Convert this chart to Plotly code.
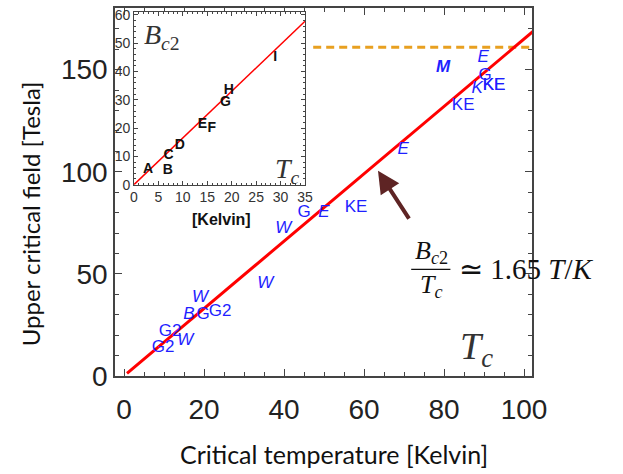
import plotly.graph_objects as go

# ---------------- data ----------------
# main panel labels (text, Tc [K], Bc2 [T])
up_text = ["G", "KE", "KE", "KE", "G", "KE", "G2", "G", "G2", "G2"]
up_x = [90.3, 92.5, 84.8, 58.0, 45.0, 92.5, 24.0, 19.8, 11.5, 9.8]
up_y = [147.0, 142.0, 132.4, 82.6, 79.7, 142.0, 31.4, 30.0, 21.7, 14.0]

it_text = ["E", "K", "E", "E", "W", "W", "W", "B", "W"]
it_x = [89.8, 88.3, 69.8, 50.0, 39.8, 35.3, 19.0, 16.2, 15.3]
it_y = [156.0, 140.6, 110.6, 79.7, 72.0, 45.0, 38.2, 30.0, 17.4]

bold_text = ["M"]
bold_x = [79.8]
bold_y = [151.0]

slope = 1.65
fit_x = [0.75, 102.5]
limit_x = [47.3, 102.5]
limit_y = [161.0, 161.0]

# inset (text, Tc, Bc2)
ins_text = ["A", "B", "C", "D", "E", "F", "G", "H", "I"]
ins_x = [2.9, 6.9, 7.1, 9.4, 14.0, 15.9, 18.7, 19.4, 28.9]
ins_y = [5.2, 4.9, 10.4, 13.9, 21.3, 19.9, 29.2, 33.4, 44.9]
ins_fit_x = [0, 35]

main_xticks = [0, 20, 40, 60, 80, 100]
main_yticks = [0, 50, 100, 150]
ins_xticks = [0, 5, 10, 15, 20, 25, 30, 35]
ins_yticks = [0, 10, 20, 30, 40, 50, 60]

BLUE = "#1F1FFF"
FRAME = "#444444"
SANS = "Liberation Sans"
SERIF = "Liberation Serif"

fig = go.Figure()

# ---------------- main panel ----------------
fig.add_trace(go.Scatter(x=limit_x, y=limit_y, mode="lines",
                         line=dict(color="#E8A020", width=3, dash="8px,5px"),
                         hoverinfo="skip", showlegend=False))
fig.add_trace(go.Scatter(x=fit_x, y=[slope * v for v in fit_x], mode="lines",
                         line=dict(color="#FF0000", width=3),
                         hoverinfo="skip", showlegend=False))
fig.add_trace(go.Scatter(x=up_x, y=up_y, mode="text", text=up_text,
                         textfont=dict(family=SANS, size=17, color=BLUE),
                         cliponaxis=False, showlegend=False))
fig.add_trace(go.Scatter(x=it_x, y=it_y, mode="text",
                         text=["<i>%s</i>" % t for t in it_text],
                         textfont=dict(family=SANS, size=17, color=BLUE),
                         cliponaxis=False, showlegend=False))
fig.add_trace(go.Scatter(x=bold_x, y=bold_y, mode="text",
                         text=["<b><i>%s</i></b>" % t for t in bold_text],
                         textfont=dict(family=SANS, size=17, color=BLUE),
                         cliponaxis=False, showlegend=False))

# ---------------- inset ----------------
fig.add_trace(go.Scatter(x=ins_fit_x, y=[slope * v for v in ins_fit_x], mode="lines",
                         line=dict(color="#FF0000", width=1.5),
                         xaxis="x2", yaxis="y2", hoverinfo="skip", showlegend=False))
fig.add_trace(go.Scatter(x=ins_x, y=ins_y, mode="text",
                         text=["<b>%s</b>" % t for t in ins_text],
                         textfont=dict(family=SANS, size=14, color="#111111"),
                         xaxis="x2", yaxis="y2", cliponaxis=False, showlegend=False))

axis_common = dict(showline=True, linecolor=FRAME, linewidth=1.5, mirror="allticks",
                   ticks="inside", tickcolor=FRAME, showgrid=False, zeroline=False)

fig.update_layout(
    width=623, height=474,
    margin=dict(l=115, r=91, t=3, b=98),
    paper_bgcolor="white", plot_bgcolor="white",
    showlegend=False,
    xaxis=dict(range=[-2.25, 102], tickvals=main_xticks, ticklen=7, tickwidth=1.2,
               tickfont=dict(family=SANS, size=28, color="#222222"),
               ticklabelstandoff=8,
               minor=dict(dtick=5, ticks="inside", ticklen=4, tickcolor=FRAME),
               **axis_common),
    yaxis=dict(range=[0, 180.2], tickvals=main_yticks, ticklen=7, tickwidth=1.2,
               tickfont=dict(family=SANS, size=28, color="#222222"),
               ticklabelstandoff=0,
               minor=dict(dtick=10, ticks="inside", ticklen=4, tickcolor=FRAME),
               **axis_common),
    xaxis2=dict(domain=[0.0456, 0.4556], anchor="y2", range=[0, 35], tickvals=ins_xticks,
                ticklen=4, tickwidth=1,
                tickfont=dict(family=SANS, size=14, color="#333333"),
                minor=dict(dtick=1, ticks="inside", ticklen=2, tickcolor=FRAME),
                **{**axis_common, "linewidth": 1}),
    yaxis2=dict(domain=[0.520, 0.989], anchor="x2", range=[0, 61], tickvals=ins_yticks,
                ticklen=4, tickwidth=1,
                tickfont=dict(family=SANS, size=14, color="#333333"),
                minor=dict(dtick=2, ticks="inside", ticklen=2, tickcolor=FRAME),
                **{**axis_common, "linewidth": 1}),
)

annotations = [
    # axis titles
    dict(text="Upper critical field [Tesla]", xref="paper", yref="paper",
         x=-0.204, y=0.442, xanchor="center", yanchor="middle", textangle=-90,
         showarrow=False, font=dict(family="Lato", size=24, color="#111111")),
    dict(text="Critical temperature [Kelvin]", xref="paper", yref="paper",
         x=0.525, y=-0.212, xanchor="center", yanchor="middle", showarrow=False,
         font=dict(family="Lato", size=25, color="#111111")),
    # inset titles
    dict(text="<b>[Kelvin]</b>", xref="paper", yref="paper",
         x=(221 - 115) / 417, y=(376 - 217) / 373, xanchor="center", yanchor="middle",
         showarrow=False, font=dict(family=SANS, size=16, color="#111111")),
    dict(text="<i>B</i><sub><i>c</i>2</sub>", xref="x2", yref="y2", x=5.7, y=52.3,
         xanchor="center", yanchor="middle",
         showarrow=False, font=dict(family=SERIF, size=28, color="#333333")),
    dict(text="<i>T</i><sub><i>c</i></sub>", xref="x2", yref="y2", x=31.5, y=5.0,
         xanchor="center", yanchor="middle",
         showarrow=False, font=dict(family=SERIF, size=28, color="#333333")),
    # main T_c
    dict(text="<i>T</i><sub><i>c</i></sub>", xref="x", yref="y", x=88.0, y=13.0,
         xanchor="center", yanchor="middle",
         showarrow=False, font=dict(family=SERIF, size=38, color="#333333")),
    # arrow
    dict(text="", xref="x", yref="y", x=63.5, y=100.5, axref="x", ayref="y",
         ax=71.5, ay=76.3, showarrow=True, arrowhead=2, arrowsize=1.1, arrowwidth=4,
         arrowcolor="#5E2424"),
    # formula
    dict(text="<i>B</i><sub><i>c</i>2</sub>", xref="x", yref="y", x=76.8, y=60.5,
         xanchor="center", yanchor="middle",
         showarrow=False, font=dict(family=SERIF, size=26, color="#111111")),
    dict(text="<i>T</i><sub><i>c</i></sub>", xref="x", yref="y", x=76.8, y=44.0,
         xanchor="center", yanchor="middle",
         showarrow=False, font=dict(family=SERIF, size=26, color="#111111")),
    dict(text="≃ 1.65 <i>T</i>/<i>K</i>", xref="x", yref="y", x=83.3, y=52.2,
         xanchor="left", yanchor="middle", showarrow=False,
         font=dict(family=SERIF, size=29, color="#111111")),
]
fig.update_layout(annotations=annotations)
fig.add_shape(type="line", xref="x", yref="y", x0=71.8, x1=81.6, y0=52.2, y1=52.2,
              line=dict(color="#111111", width=1.2))

fig.write_html("out.html")
